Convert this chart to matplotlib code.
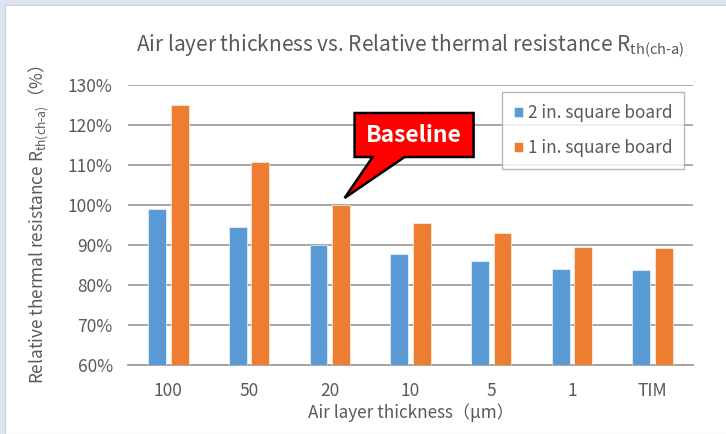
import numpy as np
import matplotlib
matplotlib.use("Agg")
import matplotlib.pyplot as plt
from matplotlib.patches import Polygon, Rectangle
from matplotlib.transforms import IdentityTransform, offset_copy

plt.rcParams['font.family'] = ['Noto Sans CJK JP', 'DejaVu Sans']
plt.rcParams['mathtext.fontset'] = 'custom'
plt.rcParams['mathtext.rm'] = 'Noto Sans CJK JP'

# data
categories = ['100', '50', '20', '10', '5', '1', 'TIM']
board_2in = [98.9, 94.4, 90.0, 87.7, 86.1, 84.1, 83.7]
board_1in = [125.1, 110.8, 100.0, 95.6, 92.9, 89.4, 89.2]
series_names = ['2 in. square board', '1 in. square board']
yticks = [60, 70, 80, 90, 100, 110, 120, 130]

blue = '#5b9bd5'
orange = '#ed7d31'
txt = '#595959'
grid = '#a0a0a0'

fig = plt.figure(figsize=(7.26, 4.34), dpi=100)
fig.patch.set_facecolor('#dde6f0')
# white chart area inside the light blue frame
fig.patches.append(Rectangle((5 / 726, 0), 1, 1 - 5 / 434, transform=fig.transFigure,
                             facecolor='white', edgecolor='#d0d0d0', lw=0.8, zorder=-10))

ax = fig.add_axes([128 / 726, 69 / 434, 565 / 726, 280 / 434])
ax.set_facecolor('none')

x = np.arange(len(categories))
w = 0.22
off = 0.14
ax.bar(x - off, board_2in, w, color=blue, edgecolor='white', lw=0.4, label=series_names[0], zorder=3)
ax.bar(x + off, board_1in, w, color=orange, edgecolor='white', lw=0.4, label=series_names[1], zorder=3)

ax.set_xlim(-0.5, len(categories) - 0.5)
ax.set_ylim(60, 130)
ax.set_yticks(yticks)
ax.set_yticklabels([f'{v}%' for v in yticks])
ax.set_xticks(x)
ax.set_xticklabels(categories)
ax.tick_params(axis='both', length=0, colors=txt, labelsize=12.5)
ax.tick_params(axis='y', pad=11)
ax.tick_params(axis='x', pad=12)
ax.yaxis.grid(True, color=grid, lw=1.3, zorder=0)
for s in ['top', 'right', 'left']:
    ax.spines[s].set_visible(False)
ax.spines['bottom'].set_color(grid)
ax.spines['bottom'].set_linewidth(1.3)

ax.set_title(r'Air layer thickness vs. Relative thermal resistance R$_{\text{th(ch-a)}}$',
             color=txt, fontsize=15, pad=25)
ax.set_xlabel('Air layer thickness（μm）', color=txt, fontsize=12.3, labelpad=3)
ax.set_ylabel(r'Relative thermal resistance R$_{\text{th(ch-a)}}$（%）', color=txt,
              fontsize=12.4, labelpad=12)

leg = ax.legend(loc='upper left', bbox_to_anchor=(502 / 726, 1 - 92 / 434),
                bbox_transform=fig.transFigure, frameon=True, fancybox=False,
                fontsize=12.4, labelcolor=txt, handlelength=0.5, handleheight=0.5,
                handletextpad=0.3, labelspacing=1.0, borderpad=0.7, borderaxespad=0)
leg.get_frame().set_edgecolor('#a6a6a6')
leg.get_frame().set_linewidth(1.0)

# "Baseline" callout pointing at the 1 in. bar of the 20 um group
tip = ax.transData.transform((2 + off, board_1in[2])) + np.array([3.5, 7])
shape = np.array([[10, 85], [129, 85], [129, 41], [60, 41], [0, 0], [28, 41], [10, 41]])
ax.add_patch(Polygon(shape + tip, closed=True, transform=IdentityTransform(),
                     facecolor='#ff0000', edgecolor='black', lw=1.8, clip_on=False, zorder=5))
ax.text(2 + off, board_1in[2], 'Baseline', color='white', fontsize=16.5, fontweight='bold',
        ha='center', va='center', zorder=6,
        transform=offset_copy(ax.transData, fig=fig, x=3.5 + 69.5, y=7 + 63, units='dots'))

fig.savefig('out.png', dpi=100)
